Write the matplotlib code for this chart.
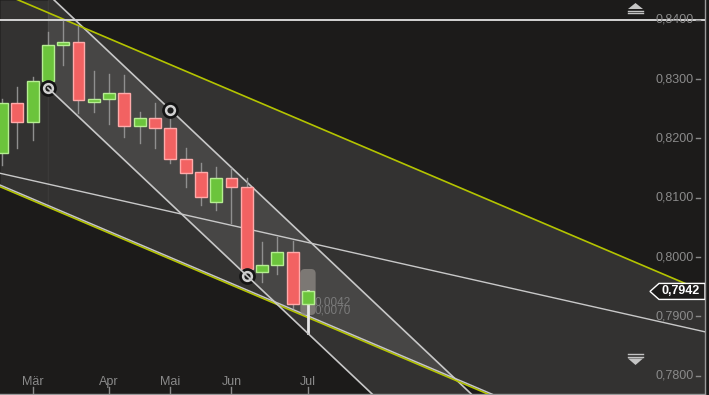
#!/usr/bin/env python3
"""
Weekly candle chart with trend channels (dark chart style)
"""

import numpy as np
import matplotlib.pyplot as plt
from matplotlib.patches import Rectangle, Polygon, FancyBboxPatch
from matplotlib.transforms import blended_transform_factory

plt.rcParams['font.family'] = ['Liberation Sans', 'DejaVu Sans']

# weekly candles, index 0 = first visible week
opens  = [0.8175, 0.8259, 0.8227, 0.8296, 0.8358, 0.8363, 0.8262, 0.8266, 0.8277, 0.8220, 0.8234,
          0.8218, 0.8165, 0.8143, 0.8092, 0.8133, 0.8118, 0.7975, 0.7987, 0.8008, 0.7921]
highs  = [0.8267, 0.8286, 0.8303, 0.8380, 0.8397, 0.8390, 0.8313, 0.8309, 0.8306, 0.8245, 0.8259,
          0.8245, 0.8183, 0.8158, 0.8151, 0.8150, 0.8133, 0.8025, 0.8034, 0.8027, 0.7943]
lows   = [0.8155, 0.8183, 0.8198, 0.8286, 0.8323, 0.8242, 0.8245, 0.8225, 0.8203, 0.8193, 0.8183,
          0.8158, 0.8118, 0.8087, 0.8079, 0.8057, 0.7970, 0.7958, 0.7971, 0.7914, 0.7872]
closes = [0.8259, 0.8227, 0.8296, 0.8358, 0.8363, 0.8264, 0.8266, 0.8277, 0.8220, 0.8235, 0.8218,
          0.8165, 0.8141, 0.8101, 0.8133, 0.8118, 0.7980, 0.7987, 0.8008, 0.7921, 0.7942]

month_pos = [2, 7, 11, 15, 20]
month_labels = ["Mär", "Apr", "Mai", "Jun", "Jul"]
price_ticks = [0.84, 0.83, 0.82, 0.81, 0.80, 0.79, 0.78]

# channel anchors (week index, price)
outer_anchor = (4, 0.8401)
outer_slope = -0.001096        # price per week
outer_width = 0.03277
steep_pivots_low = [(3, 0.82852), (16, 0.79686)]
steep_pivot_high = (11, 0.82482)
mid_line = [(0, 0.81404), (40, 0.79084)]
resist_level = 0.8400
last_price = 0.7942
hilite_range = (0.79023, 0.79798)
delta_labels = ["0,0042", "0,0070"]
delta_levels = [0.79230, 0.79095]

BG = '#1c1b1a'
GREEN, GREEN_EDGE = '#6cc43c', '#b6ee92'
RED, RED_EDGE = '#f26262', '#ffaaaa'
YEL = '#b4c400'
LINE = '#c8c8c8'
TXT = '#8a8a8a'

W_PX, H_PX = 705, 394  # axes size in pixels

fig = plt.figure(figsize=(7.09, 3.95), dpi=100, facecolor=BG)
ax = fig.add_axes([0, 1 / 395, W_PX / 709, H_PX / 395])
ax.set_facecolor(BG)
x0, x1 = -0.131, 45.95
y0, y1 = 0.77691, 0.84332
ax.set_xlim(x0, x1)
ax.set_ylim(y0, y1)
ax.set_xticks([])
ax.set_yticks([])
for s in ['top', 'left']:
    ax.spines[s].set_visible(False)
for s in ['bottom', 'right']:
    ax.spines[s].set_color('#9a9a9a')
    ax.spines[s].set_linewidth(1)

bt = blended_transform_factory(ax.transAxes, ax.transData)
bx = blended_transform_factory(ax.transData, ax.transAxes)


def px(x, y):
    return x / W_PX, 1 - y / H_PX


# outer (yellow) channel
def outer_up(x):
    return outer_anchor[1] + outer_slope * (x - outer_anchor[0])


start = steep_pivots_low[0][0]
xs_all = np.linspace(x0, x1, 300)
xs_left = np.array([x0, start])
xs_right = np.linspace(start, x1, 300)
ax.fill_between(xs_left, outer_up(xs_left) - outer_width, y1, color='white', alpha=0.1, lw=0, zorder=1)
ax.fill_between(xs_right, outer_up(xs_right) - outer_width, outer_up(xs_right),
                color='white', alpha=0.1, lw=0, zorder=1)
ax.plot(xs_all, outer_up(xs_all), color=YEL, lw=1.2, zorder=3)
ax.plot(xs_all, outer_up(xs_all) - outer_width, color=YEL, lw=1.2, zorder=3)
ax.plot(xs_all, outer_up(xs_all) - outer_width + 0.00028, color=LINE, lw=1, zorder=3)

# steep channel
(sx0, sy0), (sx1, sy1) = steep_pivots_low
k = (sy1 - sy0) / (sx1 - sx0)
steep_low = sy0 + k * (xs_right - sx0)
steep_high = steep_pivot_high[1] + k * (xs_right - steep_pivot_high[0])
ax.fill_between(xs_right, steep_low, steep_high, color='white', alpha=0.1, lw=0, zorder=1)
ax.plot(xs_right, steep_high, color=LINE, lw=1.2, zorder=2)
ax.plot(xs_right, steep_low, color=LINE, lw=1.2, zorder=7)

# middle trend line
(mx0, my0), (mx1, my1) = mid_line
ax.plot(xs_all, my0 + (my1 - my0) / (mx1 - mx0) * (xs_all - mx0), color=LINE, lw=1, zorder=3)

# horizontal resistance
ax.axhline(resist_level, color='#d4d4d4', lw=1.4, zorder=3)

# highlight behind the last candle
n = len(closes)
hl = FancyBboxPatch((n - 1 - 0.5, hilite_range[0]), 1.0, hilite_range[1] - hilite_range[0],
                    boxstyle="round,pad=0,rounding_size=0.3", mutation_aspect=15.3 / 5933,
                    facecolor='#8a8581', edgecolor='none', alpha=0.8, zorder=4)
ax.add_patch(hl)
for lab, lev in zip(delta_labels, delta_levels):
    ax.text(n - 1 + 0.4, lev, lab, color='#7a7a7a', fontsize=8.5, va='center', ha='left', zorder=3.5)

# candles
for i, (o, h, l, c) in enumerate(zip(opens, highs, lows, closes)):
    up = c >= o
    if i == n - 1:
        ax.plot([i, i], [l, max(o, c)], color='#e6e6e6', lw=2, zorder=5)
    else:
        ax.plot([i, i], [l, h], color='#8f8f8f', lw=1, zorder=5)
    ax.add_patch(Rectangle((i - 0.39, min(o, c)), 0.78, max(abs(c - o), 0.00008),
                           facecolor=GREEN if up else RED,
                           edgecolor=GREEN_EDGE if up else RED_EDGE, lw=1, zorder=6))

# pivot circles
pivots = steep_pivots_low + [steep_pivot_high]
ax.plot([p[0] for p in pivots], [p[1] for p in pivots], 'o', ms=11, color='#141414', zorder=6.5)
ax.plot([p[0] for p in pivots], [p[1] for p in pivots], 'o', ms=6.3, mfc='#1a1a1a',
        mec='#d0d0d0', mew=1.8, zorder=6.6)

# price labels on the right
for v in price_ticks:
    ax.text(694 / W_PX, v, f"{v:.4f}".replace('.', ','), transform=bt, color=TXT,
            fontsize=9, ha='right', va='center', zorder=8)
    ax.plot([696 / W_PX, 700 / W_PX], [v, v], transform=bt, color=TXT, lw=1, zorder=8)

# current price marker
h = 8 / 5933
tag = Polygon([(650 / W_PX, last_price), (659 / W_PX, last_price + h), (1.0, last_price + h),
               (1.0, last_price - h), (659 / W_PX, last_price - h)], closed=True,
              transform=bt, facecolor=BG, edgecolor='white', lw=1, zorder=9)
ax.add_patch(tag)
ax.text(681 / W_PX, last_price, f"{last_price:.4f}".replace('.', ','), transform=bt,
        color='white', fontsize=9, fontweight='bold', ha='center', va='center', zorder=10)

# month labels on the bottom
for pos, lab in zip(month_pos, month_labels):
    ax.text(pos, 1 - 382 / H_PX, lab, transform=bx, color=TXT, fontsize=9, ha='center', va='center')
    ax.plot([pos, pos], [0, 7 / H_PX], transform=bx, color=TXT, lw=1)

# scroll arrows
ic = '#c4c4c4'
ax.add_patch(Polygon([px(628, 9), px(643, 9), px(635.5, 3)], closed=True, transform=ax.transAxes,
                     facecolor=ic, edgecolor='none', zorder=9))
for yy in [11, 13]:
    ax.plot([628 / W_PX, 643 / W_PX], [1 - yy / H_PX] * 2, transform=ax.transAxes, color=ic, lw=1, zorder=9)
ax.add_patch(Polygon([px(628, 358.5), px(643, 358.5), px(635.5, 365)], closed=True, transform=ax.transAxes,
                     facecolor=ic, edgecolor='none', zorder=9))
for yy in [354, 356.5]:
    ax.plot([628 / W_PX, 643 / W_PX], [1 - yy / H_PX] * 2, transform=ax.transAxes, color=ic, lw=1, zorder=9)

plt.savefig("out.png", dpi=100, facecolor=BG)
